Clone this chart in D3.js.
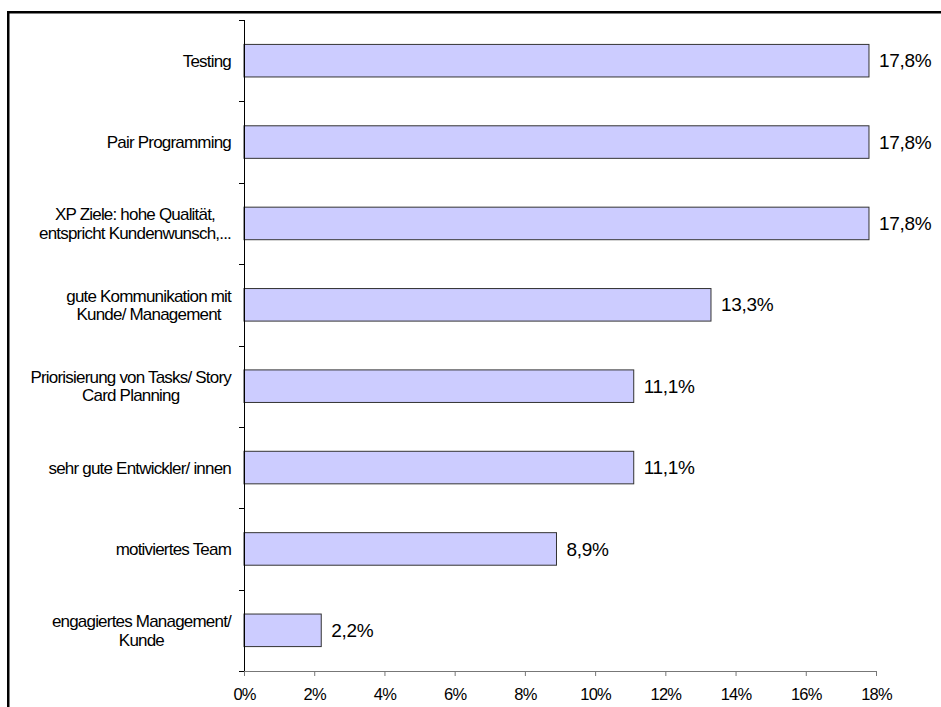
<!DOCTYPE html>
<html><head><meta charset="utf-8">
<script src="https://cdn.jsdelivr.net/npm/d3@7"></script>
<style>body{margin:0;background:#fff}svg{display:block}</style>
</head><body>
<svg id="c" width="941" height="707"></svg>
<script>
const categories = [
  ["Testing"],
  ["Pair Programming"],
  ["XP Ziele: hohe Qualität,", "entspricht Kundenwunsch,..."],
  ["gute Kommunikation mit", "Kunde/ Management"],
  ["Priorisierung von Tasks/ Story", "Card Planning"],
  ["sehr gute Entwickler/ innen"],
  ["motiviertes Team"],
  ["engagiertes Management/", "Kunde"]
];
const values = [17.8, 17.8, 17.8, 13.3, 11.1, 11.1, 8.9, 2.2];
const xTicks = [0, 2, 4, 6, 8, 10, 12, 14, 16, 18];

const svg = d3.select("#c");
const font = "'Liberation Sans', Arial, sans-serif";

// frame
svg.append("rect").attr("x", 8.25).attr("y", 12.25).attr("width", 960).attr("height", 720)
  .attr("fill", "none").attr("stroke", "#000").attr("stroke-width", 2.5);

const x = d3.scaleLinear().domain([0, 18]).range([244, 876]);
const idx = d3.range(categories.length);
const y = d3.scaleBand().domain(idx).range([20, 671]).paddingInner(0.6).paddingOuter(0.3);
const yTick = d3.scaleBand().domain(idx).range([20, 671]).padding(0);

// bars
svg.selectAll("rect.bar").data(values).join("rect").attr("class", "bar")
  .attr("x", x(0)).attr("y", (d, i) => y(i))
  .attr("width", d => x(d) - x(0)).attr("height", y.bandwidth())
  .attr("fill", "#ccccff").attr("stroke", "#333").attr("stroke-width", 1);

// value labels
svg.selectAll("text.val").data(values).join("text").attr("class", "val")
  .attr("x", d => x(d) + 10).attr("y", (d, i) => y(i) + y.bandwidth() / 2)
  .attr("dy", "0.35em").attr("font-family", font).attr("font-size", 19)
  .attr("letter-spacing", "-0.3px")
  .text(d => d.toFixed(1).replace(".", ",") + "%");

// x axis
const xAxis = svg.append("g").attr("transform", "translate(0,671)")
  .call(d3.axisBottom(x).tickValues(xTicks).tickFormat(d => d + "%").tickSize(5).tickPadding(12));
xAxis.select(".domain").attr("stroke", "#777");
xAxis.selectAll(".tick line").attr("stroke", "#777");
xAxis.selectAll("text").attr("font-family", font).attr("font-size", 16.5).attr("fill", "#000")
  .attr("letter-spacing", "-0.8px");

// y axis line + ticks at band boundaries
svg.append("line").attr("x1", 244.5).attr("x2", 244.5).attr("y1", 20).attr("y2", 671)
  .attr("stroke", "#000").attr("stroke-width", 1);
const bounds = idx.map(i => yTick(i)).concat([671]);
svg.selectAll("line.yt").data(bounds).join("line").attr("class", "yt")
  .attr("x1", 239).attr("x2", 244).attr("y1", d => Math.round(d) + 0.5).attr("y2", d => Math.round(d) + 0.5)
  .attr("stroke", "#000");

// category labels
const lineH = 18.5;
categories.forEach((lines, i) => {
  const cy = y(i) + y.bandwidth() / 2;
  const g = svg.append("g");
  const texts = lines.map((t, k) => g.append("text")
    .attr("font-family", font).attr("font-size", 17).attr("letter-spacing", "-0.8px")
    .attr("text-anchor", "middle").attr("dy", "0.35em")
    .attr("y", cy + (k - (lines.length - 1) / 2) * lineH).text(t));
  const maxW = d3.max(texts, t => t.node().getComputedTextLength());
  texts.forEach(t => t.attr("x", 231 - maxW / 2));
});
</script>
</body></html>
